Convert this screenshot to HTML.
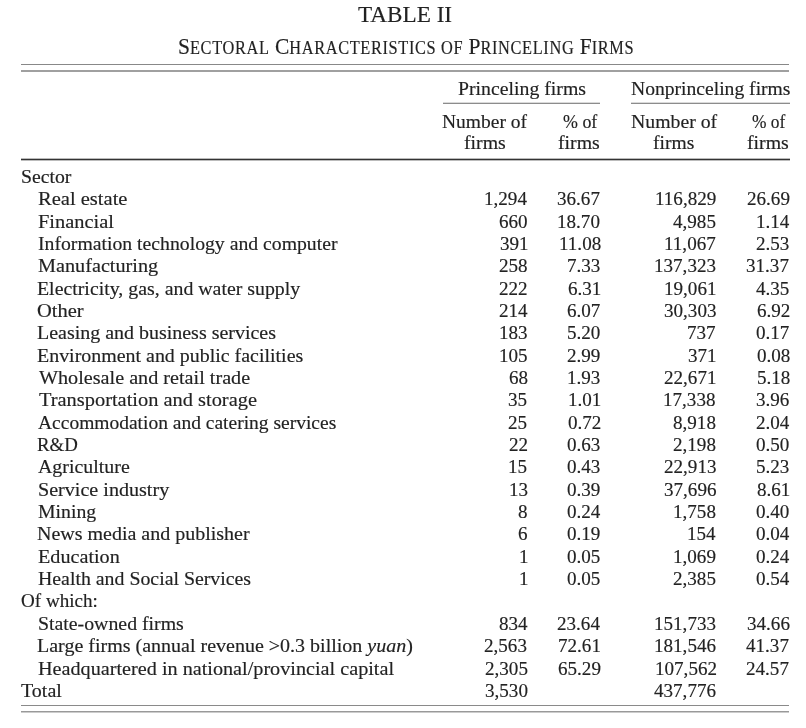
<!DOCTYPE html>
<html><head><meta charset="utf-8"><style>
html,body{margin:0;padding:0;background:#fff;}
body{width:806px;height:728px;position:relative;overflow:hidden;filter:blur(0.3px);font-family:"Liberation Serif",serif;color:#222;}
.t{position:absolute;white-space:nowrap;line-height:0;height:0;transform-origin:0 0;-webkit-text-stroke:0.15px #222;}
.sc{font-size:76%;letter-spacing:0.7px;}
.r{position:absolute;}
</style></head><body>
<div class="t" style="left:20.61px;top:176.83px;font-size:18px;transform:scaleX(1.0968)">Sector</div><div class="t" style="left:37.63px;top:199.18px;font-size:18px;transform:scaleX(1.1402)">Real estate</div><div class="t" style="left:37.90px;top:221.53px;font-size:18px;transform:scaleX(1.1347)">Financial</div><div class="t" style="left:37.72px;top:243.88px;font-size:18px;transform:scaleX(1.0955)">Information technology and computer</div><div class="t" style="left:37.56px;top:266.23px;font-size:18px;transform:scaleX(1.1235)">Manufacturing</div><div class="t" style="left:37.47px;top:288.57px;font-size:18px;transform:scaleX(1.1025)">Electricity, gas, and water supply</div><div class="t" style="left:37.34px;top:310.93px;font-size:18px;transform:scaleX(1.1390)">Other</div><div class="t" style="left:37.37px;top:333.28px;font-size:18px;transform:scaleX(1.1090)">Leasing and business services</div><div class="t" style="left:37.37px;top:355.63px;font-size:18px;transform:scaleX(1.1073)">Environment and public facilities</div><div class="t" style="left:38.67px;top:377.98px;font-size:18px;transform:scaleX(1.1206)">Wholesale and retail trade</div><div class="t" style="left:38.63px;top:400.32px;font-size:18px;transform:scaleX(1.1334)">Transportation and storage</div><div class="t" style="left:38.46px;top:422.68px;font-size:18px;transform:scaleX(1.0829)">Accommodation and catering services</div><div class="t" style="left:37.48px;top:445.03px;font-size:18px;transform:scaleX(1.0453)">R&amp;D</div><div class="t" style="left:38.41px;top:467.38px;font-size:18px;transform:scaleX(1.1054)">Agriculture</div><div class="t" style="left:37.51px;top:489.73px;font-size:18px;transform:scaleX(1.1168)">Service industry</div><div class="t" style="left:37.63px;top:512.07px;font-size:18px;transform:scaleX(1.0963)">Mining</div><div class="t" style="left:37.36px;top:534.42px;font-size:18px;transform:scaleX(1.1104)">News media and publisher</div><div class="t" style="left:37.56px;top:556.77px;font-size:18px;transform:scaleX(1.1205)">Education</div><div class="t" style="left:37.50px;top:579.12px;font-size:18px;transform:scaleX(1.1015)">Health and Social Services</div><div class="t" style="left:20.90px;top:601.48px;font-size:18px;transform:scaleX(1.0599)">Of which:</div><div class="t" style="left:37.51px;top:623.82px;font-size:18px;transform:scaleX(1.1007)">State-owned firms</div><div class="t" style="left:37.36px;top:646.17px;font-size:18px;transform:scaleX(1.1114)">Large firms (annual revenue &gt;0.3 billion <i>yuan</i>)</div><div class="t" style="left:37.55px;top:668.52px;font-size:18px;transform:scaleX(1.1218)">Headquartered in national/provincial capital</div><div class="t" style="left:21.30px;top:690.88px;font-size:18px;transform:scaleX(1.1117)">Total</div><div class="t" style="left:484.16px;top:199.18px;font-size:18px;transform:scaleX(1.0600)">1,294</div><div class="t" style="left:557.33px;top:199.18px;font-size:18px;transform:scaleX(1.0600)">36.67</div><div class="t" style="left:654.75px;top:199.18px;font-size:18px;transform:scaleX(1.0600)">116,829</div><div class="t" style="left:746.62px;top:199.18px;font-size:18px;transform:scaleX(1.0600)">26.69</div><div class="t" style="left:499.05px;top:221.53px;font-size:18px;transform:scaleX(1.0600)">660</div><div class="t" style="left:557.42px;top:221.53px;font-size:18px;transform:scaleX(1.0600)">18.70</div><div class="t" style="left:673.35px;top:221.53px;font-size:18px;transform:scaleX(1.0600)">4,985</div><div class="t" style="left:756.00px;top:221.53px;font-size:18px;transform:scaleX(1.0600)">1.14</div><div class="t" style="left:499.89px;top:243.88px;font-size:18px;transform:scaleX(1.0600)">391</div><div class="t" style="left:558.51px;top:243.88px;font-size:18px;transform:scaleX(1.0600)">11.08</div><div class="t" style="left:664.43px;top:243.88px;font-size:18px;transform:scaleX(1.0600)">11,067</div><div class="t" style="left:756.45px;top:243.88px;font-size:18px;transform:scaleX(1.0600)">2.53</div><div class="t" style="left:498.92px;top:266.23px;font-size:18px;transform:scaleX(1.0600)">258</div><div class="t" style="left:567.45px;top:266.23px;font-size:18px;transform:scaleX(1.0600)">7.33</div><div class="t" style="left:654.16px;top:266.23px;font-size:18px;transform:scaleX(1.0600)">137,323</div><div class="t" style="left:746.33px;top:266.23px;font-size:18px;transform:scaleX(1.0600)">31.37</div><div class="t" style="left:499.04px;top:288.57px;font-size:18px;transform:scaleX(1.0600)">222</div><div class="t" style="left:568.34px;top:288.57px;font-size:18px;transform:scaleX(1.0600)">6.31</div><div class="t" style="left:664.34px;top:288.57px;font-size:18px;transform:scaleX(1.0600)">19,061</div><div class="t" style="left:756.20px;top:288.57px;font-size:18px;transform:scaleX(1.0600)">4.35</div><div class="t" style="left:498.73px;top:310.93px;font-size:18px;transform:scaleX(1.0600)">214</div><div class="t" style="left:567.31px;top:310.93px;font-size:18px;transform:scaleX(1.0600)">6.07</div><div class="t" style="left:663.68px;top:310.93px;font-size:18px;transform:scaleX(1.0600)">30,303</div><div class="t" style="left:756.78px;top:310.93px;font-size:18px;transform:scaleX(1.0600)">6.92</div><div class="t" style="left:499.04px;top:333.28px;font-size:18px;transform:scaleX(1.0600)">183</div><div class="t" style="left:567.16px;top:333.28px;font-size:18px;transform:scaleX(1.0600)">5.20</div><div class="t" style="left:687.28px;top:333.28px;font-size:18px;transform:scaleX(1.0600)">737</div><div class="t" style="left:756.31px;top:333.28px;font-size:18px;transform:scaleX(1.0600)">0.17</div><div class="t" style="left:499.43px;top:355.63px;font-size:18px;transform:scaleX(1.0600)">105</div><div class="t" style="left:567.38px;top:355.63px;font-size:18px;transform:scaleX(1.0600)">2.99</div><div class="t" style="left:688.39px;top:355.63px;font-size:18px;transform:scaleX(1.0600)">371</div><div class="t" style="left:756.50px;top:355.63px;font-size:18px;transform:scaleX(1.0600)">0.08</div><div class="t" style="left:508.58px;top:377.98px;font-size:18px;transform:scaleX(1.0600)">68</div><div class="t" style="left:567.45px;top:377.98px;font-size:18px;transform:scaleX(1.0600)">1.93</div><div class="t" style="left:664.34px;top:377.98px;font-size:18px;transform:scaleX(1.0600)">22,671</div><div class="t" style="left:756.50px;top:377.98px;font-size:18px;transform:scaleX(1.0600)">5.18</div><div class="t" style="left:508.29px;top:400.32px;font-size:18px;transform:scaleX(1.0600)">35</div><div class="t" style="left:568.34px;top:400.32px;font-size:18px;transform:scaleX(1.0600)">1.01</div><div class="t" style="left:663.22px;top:400.32px;font-size:18px;transform:scaleX(1.0600)">17,338</div><div class="t" style="left:756.17px;top:400.32px;font-size:18px;transform:scaleX(1.0600)">3.96</div><div class="t" style="left:508.29px;top:422.68px;font-size:18px;transform:scaleX(1.0600)">25</div><div class="t" style="left:567.78px;top:422.68px;font-size:18px;transform:scaleX(1.0600)">0.72</div><div class="t" style="left:673.02px;top:422.68px;font-size:18px;transform:scaleX(1.0600)">8,918</div><div class="t" style="left:756.00px;top:422.68px;font-size:18px;transform:scaleX(1.0600)">2.04</div><div class="t" style="left:508.50px;top:445.03px;font-size:18px;transform:scaleX(1.0600)">22</div><div class="t" style="left:567.45px;top:445.03px;font-size:18px;transform:scaleX(1.0600)">0.63</div><div class="t" style="left:673.02px;top:445.03px;font-size:18px;transform:scaleX(1.0600)">2,198</div><div class="t" style="left:756.16px;top:445.03px;font-size:18px;transform:scaleX(1.0600)">0.50</div><div class="t" style="left:508.29px;top:467.38px;font-size:18px;transform:scaleX(1.0600)">15</div><div class="t" style="left:567.45px;top:467.38px;font-size:18px;transform:scaleX(1.0600)">0.43</div><div class="t" style="left:663.68px;top:467.38px;font-size:18px;transform:scaleX(1.0600)">22,913</div><div class="t" style="left:756.45px;top:467.38px;font-size:18px;transform:scaleX(1.0600)">5.23</div><div class="t" style="left:508.54px;top:489.73px;font-size:18px;transform:scaleX(1.0600)">13</div><div class="t" style="left:567.38px;top:489.73px;font-size:18px;transform:scaleX(1.0600)">0.39</div><div class="t" style="left:663.64px;top:489.73px;font-size:18px;transform:scaleX(1.0600)">37,696</div><div class="t" style="left:757.34px;top:489.73px;font-size:18px;transform:scaleX(1.0600)">8.61</div><div class="t" style="left:518.28px;top:512.07px;font-size:18px;transform:scaleX(1.0600)">8</div><div class="t" style="left:567.00px;top:512.07px;font-size:18px;transform:scaleX(1.0600)">0.24</div><div class="t" style="left:673.02px;top:512.07px;font-size:18px;transform:scaleX(1.0600)">1,758</div><div class="t" style="left:756.16px;top:512.07px;font-size:18px;transform:scaleX(1.0600)">0.40</div><div class="t" style="left:517.62px;top:534.42px;font-size:18px;transform:scaleX(1.0600)">6</div><div class="t" style="left:567.38px;top:534.42px;font-size:18px;transform:scaleX(1.0600)">0.19</div><div class="t" style="left:687.23px;top:534.42px;font-size:18px;transform:scaleX(1.0600)">154</div><div class="t" style="left:756.00px;top:534.42px;font-size:18px;transform:scaleX(1.0600)">0.04</div><div class="t" style="left:518.99px;top:556.77px;font-size:18px;transform:scaleX(1.0600)">1</div><div class="t" style="left:567.20px;top:556.77px;font-size:18px;transform:scaleX(1.0600)">0.05</div><div class="t" style="left:673.42px;top:556.77px;font-size:18px;transform:scaleX(1.0600)">1,069</div><div class="t" style="left:756.00px;top:556.77px;font-size:18px;transform:scaleX(1.0600)">0.24</div><div class="t" style="left:518.99px;top:579.12px;font-size:18px;transform:scaleX(1.0600)">1</div><div class="t" style="left:567.20px;top:579.12px;font-size:18px;transform:scaleX(1.0600)">0.05</div><div class="t" style="left:673.35px;top:579.12px;font-size:18px;transform:scaleX(1.0600)">2,385</div><div class="t" style="left:756.00px;top:579.12px;font-size:18px;transform:scaleX(1.0600)">0.54</div><div class="t" style="left:498.73px;top:623.82px;font-size:18px;transform:scaleX(1.0600)">834</div><div class="t" style="left:556.96px;top:623.82px;font-size:18px;transform:scaleX(1.0600)">23.64</div><div class="t" style="left:654.16px;top:623.82px;font-size:18px;transform:scaleX(1.0600)">151,733</div><div class="t" style="left:746.53px;top:623.82px;font-size:18px;transform:scaleX(1.0600)">34.66</div><div class="t" style="left:484.30px;top:646.17px;font-size:18px;transform:scaleX(1.0600)">2,563</div><div class="t" style="left:558.34px;top:646.17px;font-size:18px;transform:scaleX(1.0600)">72.61</div><div class="t" style="left:653.77px;top:646.17px;font-size:18px;transform:scaleX(1.0600)">181,546</div><div class="t" style="left:746.33px;top:646.17px;font-size:18px;transform:scaleX(1.0600)">41.37</div><div class="t" style="left:484.75px;top:668.52px;font-size:18px;transform:scaleX(1.0600)">2,305</div><div class="t" style="left:557.62px;top:668.52px;font-size:18px;transform:scaleX(1.0600)">65.29</div><div class="t" style="left:654.59px;top:668.52px;font-size:18px;transform:scaleX(1.0600)">107,562</div><div class="t" style="left:746.33px;top:668.52px;font-size:18px;transform:scaleX(1.0600)">24.57</div><div class="t" style="left:484.52px;top:690.88px;font-size:18px;transform:scaleX(1.0600)">3,530</div><div class="t" style="left:653.77px;top:690.88px;font-size:18px;transform:scaleX(1.0600)">437,776</div><div class="t" style="left:457.50px;top:89.08px;font-size:18px;transform:scaleX(1.0988)">Princeling firms</div><div class="t" style="left:630.99px;top:89.08px;font-size:18px;transform:scaleX(1.0888)">Nonprinceling firms</div><div class="t" style="left:442.41px;top:122.12px;font-size:18px;transform:scaleX(1.0830)">Number of</div><div class="t" style="left:463.86px;top:143.33px;font-size:18px;transform:scaleX(1.0992)">firms</div><div class="t" style="left:562.82px;top:122.12px;font-size:18px;transform:scaleX(0.9943)">% of</div><div class="t" style="left:557.89px;top:143.33px;font-size:18px;transform:scaleX(1.0993)">firms</div><div class="t" style="left:630.66px;top:122.12px;font-size:18px;transform:scaleX(1.0975)">Number of</div><div class="t" style="left:652.67px;top:143.33px;font-size:18px;transform:scaleX(1.0862)">firms</div><div class="t" style="left:752.48px;top:122.12px;font-size:18px;transform:scaleX(0.9658)">% of</div><div class="t" style="left:747.32px;top:143.33px;font-size:18px;transform:scaleX(1.0992)">firms</div><div class="t" style="left:358.31px;top:14.84px;font-size:23px;transform:scaleX(1.0080)">TABLE II</div><div class="t" style="left:177.77px;top:46.07px;font-size:23.5px;transform:scaleX(0.9151)">S<span class="sc">ECTORAL</span> C<span class="sc">HARACTERISTICS OF</span> P<span class="sc">RINCELING</span> F<span class="sc">IRMS</span></div>
<div class="r" style="left:21px;top:64px;width:768px;height:1px;background:#888"></div><div class="r" style="left:21px;top:70px;width:768px;height:2px;background:#a0a0a0"></div><div class="r" style="left:443px;top:102px;width:157px;height:1px;background:#dadada"></div><div class="r" style="left:443px;top:103px;width:157px;height:1px;background:#8c8c8c"></div><div class="r" style="left:631px;top:102px;width:159px;height:1px;background:#dadada"></div><div class="r" style="left:631px;top:103px;width:159px;height:1px;background:#8c8c8c"></div><div class="r" style="left:21px;top:158px;width:769px;height:1px;background:#bbbbbb"></div><div class="r" style="left:21px;top:159px;width:769px;height:1px;background:#333"></div><div class="r" style="left:21px;top:160px;width:769px;height:1px;background:#bbbbbb"></div><div class="r" style="left:21px;top:705px;width:768px;height:1px;background:#8a8a8a"></div><div class="r" style="left:21px;top:711px;width:768px;height:1px;background:#999"></div><div class="r" style="left:21px;top:712px;width:768px;height:1px;background:#cccccc"></div>
</body></html>
